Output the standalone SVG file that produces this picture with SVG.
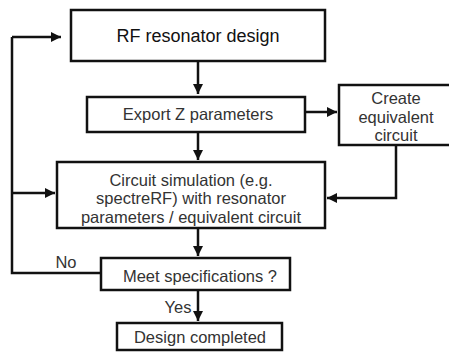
<svg xmlns="http://www.w3.org/2000/svg" width="449" height="352" viewBox="0 0 449 352">
<defs>
<marker id="ah" viewBox="0 0 10 10" refX="10" refY="5" markerWidth="4" markerHeight="4" orient="auto" markerUnits="strokeWidth">
<path d="M0,0 L10,5 L0,10 z" fill="#111"/>
</marker>
<style>
.box{fill:#fff;stroke:#111;stroke-width:2.5}
.t{font-family:"Liberation Sans",Arial,sans-serif;font-size:16.5px;fill:#333;text-anchor:middle;dominant-baseline:central}
.big{font-size:18px;fill:#111}
.ln{fill:none;stroke:#111;stroke-width:2.5}
.ar{marker-end:url(#ah)}
</style>
</defs>
<rect width="449" height="352" fill="#fff"/>
<g id="connectors">
<path class="ln ar" d="M198,61 V94"/>
<path class="ln ar" d="M305,112 H337"/>
<path class="ln ar" d="M198,132 V160"/>
<path class="ln ar" d="M396,145 V198 H327"/>
<path class="ln ar" d="M198,228 V256"/>
<path class="ln ar" d="M198,290 V321"/>
<path class="ln" d="M101,273 H12 V37"/>
<path class="ln ar" d="M12,37 H61"/>
<path class="ln ar" d="M12,193 H55"/>
<text class="t" x="66" y="262">No</text>
<text class="t" x="178" y="307">Yes</text>
</g>
<g id="n1"><rect class="box" x="71" y="10" width="254" height="51"/><text class="t big" x="198" y="36">RF resonator design</text></g>
<g id="n2"><rect class="box" x="87" y="97" width="218" height="35"/><text class="t" x="198" y="114">Export Z parameters</text></g>
<g id="n3"><rect class="box" x="339" y="85" width="115" height="60"/><text class="t" x="396" y="98">Create</text><text class="t" x="396" y="117">equivalent</text><text class="t" x="396" y="135">circuit</text></g>
<g id="n4"><rect class="box" x="57" y="162" width="268" height="66"/><text class="t" x="191" y="180">Circuit simulation (e.g.</text><text class="t" x="191" y="198">spectreRF) with resonator</text><text class="t" x="191" y="217">parameters / equivalent circuit</text></g>
<g id="n5"><rect class="box" x="101" y="258" width="189" height="32"/><text class="t" x="200" y="276">Meet specifications ?</text></g>
<g id="n6"><rect class="box" x="117" y="323" width="165" height="27"/><text class="t" x="200" y="337">Design completed</text></g>
</svg>
